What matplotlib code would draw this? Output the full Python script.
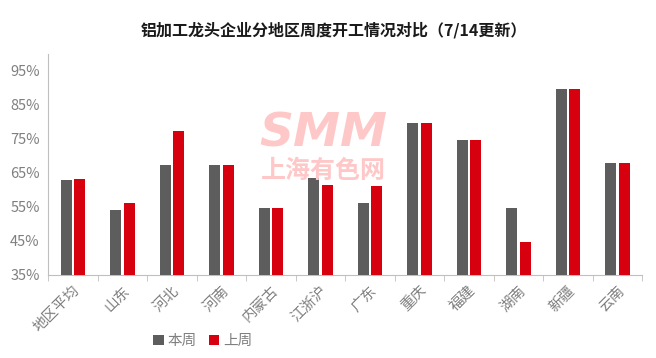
import numpy as np
import matplotlib
matplotlib.use('Agg')
import matplotlib.pyplot as plt

plt.rcParams['font.family'] = ['Noto Sans CJK SC', 'DejaVu Sans']

# 数据
regioes = ['地区平均', '山东', '河北', '河南', '内蒙古', '江浙沪', '广东', '重庆', '福建', '湖南', '新疆', '云南']
esta_semana = [62.9, 54.1, 67.4, 67.4, 54.7, 63.5, 56.2, 79.7, 74.7, 54.7, 89.7, 67.9]
semana_passada = [63.2, 56.2, 77.4, 67.4, 54.7, 61.5, 61.2, 79.7, 74.7, 44.7, 89.7, 67.9]
y_ticks = [35, 45, 55, 65, 75, 85, 95]

cinza = '#5D5D5D'
vermelho = '#D7000F'
texto = '#7F7F7F'

fig = plt.figure(figsize=(6.56, 3.58), dpi=100)
ax = fig.add_axes([48 / 656, 1 - 275 / 358, 594 / 656, 221 / 358])

x = np.arange(len(regioes))
w = 0.225
ax.bar(x - 0.13, esta_semana, w, color=cinza, label='本周', zorder=3)
ax.bar(x + 0.145, semana_passada, w, color=vermelho, label='上周', zorder=3)

ax.set_ylim(35, 100)
ax.set_xlim(-0.5, len(regioes) - 0.5)
ax.set_yticks(y_ticks)
ax.set_yticklabels([f'{v}%' for v in y_ticks], color=texto, fontsize=10.5)
ax.tick_params(axis='y', length=0, pad=6)

ax.set_xticks(x)
ax.set_xticklabels(regioes, rotation=45, ha='right', rotation_mode='anchor', color=texto, fontsize=10.5)
ax.tick_params(axis='x', length=0, pad=6)
ax.set_xticks(np.arange(-0.5, len(regioes), 1), minor=True)
ax.tick_params(axis='x', which='minor', length=4, color='#BFBFBF', direction='out')

for lado in ['top', 'right']:
    ax.spines[lado].set_visible(False)
for lado in ['left', 'bottom']:
    ax.spines[lado].set_color('#BFBFBF')

# marca d'água
fig.text(323 / 656, 1 - 134 / 358, 'SMM', fontsize=34, fontweight='bold', color='#FFC8C8',
         ha='center', va='center', family='DejaVu Sans', style='italic', zorder=1)
fig.text(323 / 656, 1 - 171 / 358, '上海有色网', fontsize=18, fontweight='bold', color='#FFC8C8',
         ha='center', va='center', zorder=1)

fig.text(334 / 656, 1 - 30 / 358, '铝加工龙头企业分地区周度开工情况对比（7/14更新）',
         fontsize=11.5, fontweight='bold', color='#1A1A1A', ha='center', va='center')

fig.legend(loc='center', bbox_to_anchor=(203 / 656, 1 - 341 / 358), ncol=2, frameon=False,
           fontsize=10.5, handlelength=0.7, handleheight=0.7, handletextpad=0.3, columnspacing=0.8,
           labelcolor=texto)

fig.savefig('out.png', dpi=100)
